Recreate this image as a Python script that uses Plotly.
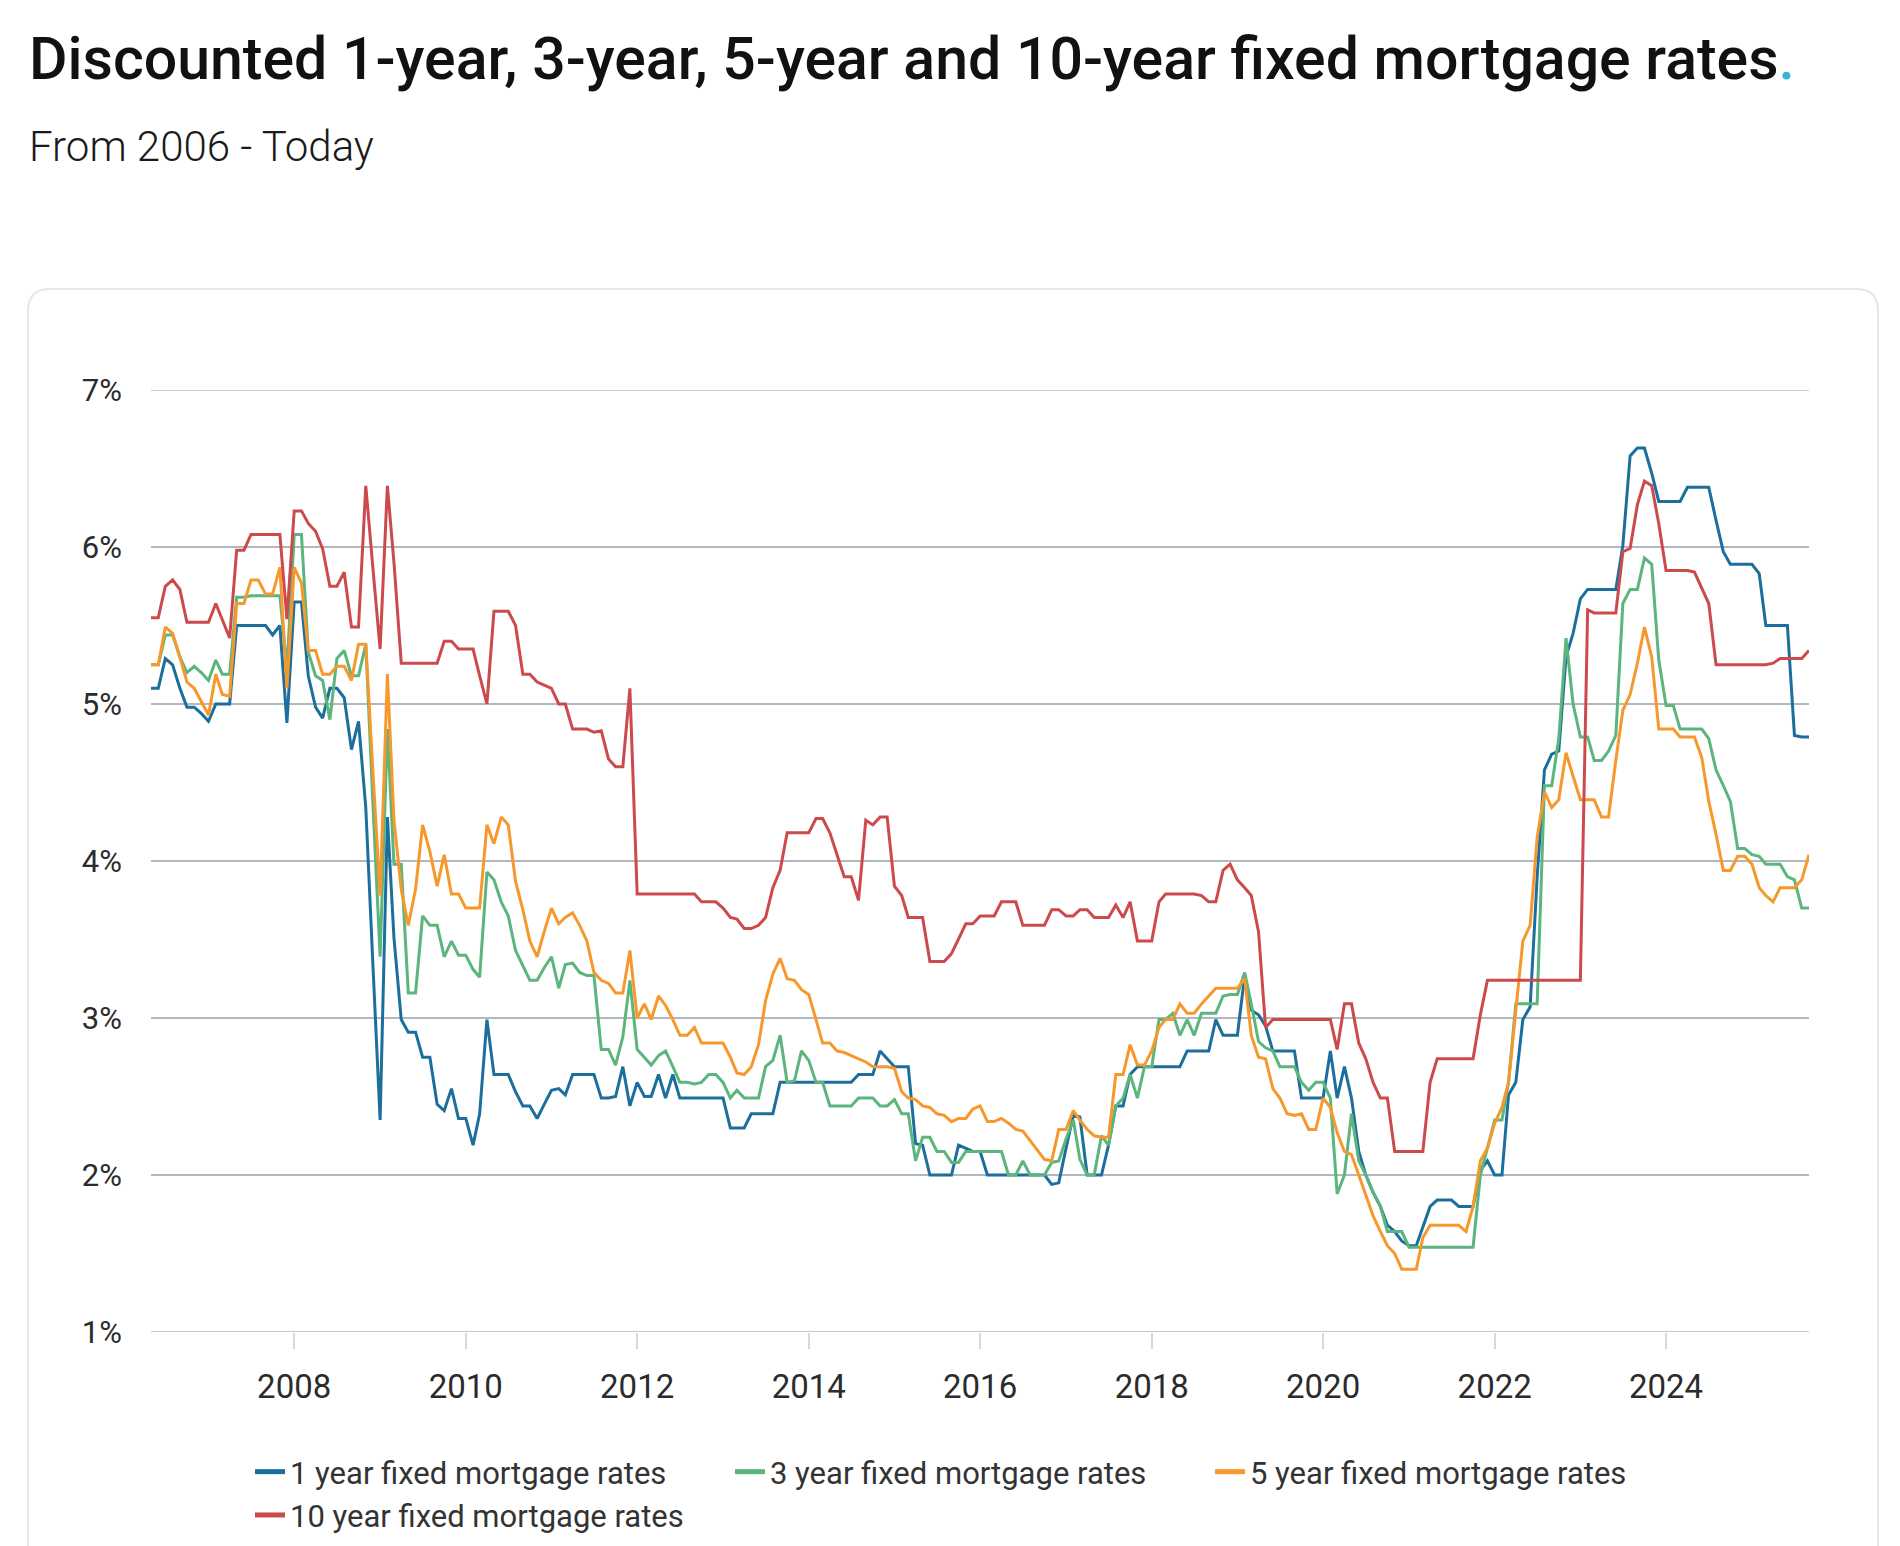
import pandas as pd
import plotly.graph_objects as go

# Monthly observations, May 2006 - Sep 2025
start_month = "2006-05-01"

one_year = [
    5.10, 5.10, 5.29, 5.25, 5.10, 4.98, 4.98, 4.94, 4.89, 5.00, 5.00, 5.00,
    5.50, 5.50, 5.50, 5.50, 5.50, 5.44, 5.50, 4.88, 5.65, 5.65, 5.18, 4.98,
    4.91, 5.10, 5.10, 5.04, 4.71, 4.89, 4.34, 3.35, 2.35, 4.28, 3.51, 2.99,
    2.91, 2.91, 2.75, 2.75, 2.45, 2.41, 2.55, 2.36, 2.36, 2.19, 2.39, 2.99,
    2.64, 2.64, 2.64, 2.53, 2.44, 2.44, 2.36, 2.45, 2.54, 2.55, 2.51, 2.64,
    2.64, 2.64, 2.64, 2.49, 2.49, 2.50, 2.69, 2.44, 2.59, 2.50, 2.50, 2.64,
    2.49, 2.64, 2.49, 2.49, 2.49, 2.49, 2.49, 2.49, 2.49, 2.30, 2.30, 2.30,
    2.39, 2.39, 2.39, 2.39, 2.59, 2.59, 2.59, 2.59, 2.59, 2.59, 2.59, 2.59,
    2.59, 2.59, 2.59, 2.64, 2.64, 2.64, 2.79, 2.74, 2.69, 2.69, 2.69, 2.20,
    2.19, 2.00, 2.00, 2.00, 2.00, 2.19, 2.17, 2.15, 2.15, 2.00, 2.00, 2.00,
    2.00, 2.00, 2.00, 2.00, 2.00, 2.00, 1.94, 1.95, 2.17, 2.38, 2.37, 2.00,
    2.00, 2.00, 2.19, 2.44, 2.44, 2.64, 2.69, 2.69, 2.69, 2.69, 2.69, 2.69,
    2.69, 2.79, 2.79, 2.79, 2.79, 2.99, 2.89, 2.89, 2.89, 3.27, 3.05, 3.02,
    2.95, 2.79, 2.79, 2.79, 2.79, 2.49, 2.49, 2.49, 2.49, 2.79, 2.49, 2.69,
    2.49, 2.15, 2.00, 1.89, 1.80, 1.68, 1.64, 1.58, 1.55, 1.55, 1.67, 1.80,
    1.84, 1.84, 1.84, 1.80, 1.80, 1.80, 2.03, 2.09, 2.00, 2.00, 2.51, 2.59,
    2.99, 3.07, 3.90, 4.58, 4.68, 4.70, 5.30, 5.45, 5.67, 5.73, 5.73, 5.73,
    5.73, 5.73, 6.01, 6.58, 6.63, 6.63, 6.47, 6.29, 6.29, 6.29, 6.29, 6.38,
    6.38, 6.38, 6.38, 6.17, 5.97, 5.89, 5.89, 5.89, 5.89, 5.83, 5.50, 5.50,
    5.50, 5.50, 4.80, 4.79, 4.79,
]

three_year = [
    5.25, 5.25, 5.44, 5.44, 5.30, 5.20, 5.24, 5.20, 5.15, 5.28, 5.19, 5.19,
    5.68, 5.68, 5.69, 5.69, 5.69, 5.69, 5.69, 5.22, 6.08, 6.08, 5.33, 5.18,
    5.15, 4.90, 5.29, 5.34, 5.18, 5.18, 5.38, 4.38, 3.39, 4.84, 3.98, 3.98,
    3.16, 3.16, 3.65, 3.59, 3.59, 3.39, 3.49, 3.40, 3.40, 3.31, 3.26, 3.93,
    3.88, 3.74, 3.65, 3.43, 3.33, 3.24, 3.24, 3.32, 3.39, 3.19, 3.34, 3.35,
    3.29, 3.27, 3.27, 2.80, 2.80, 2.70, 2.88, 3.24, 2.80, 2.75, 2.70, 2.76,
    2.79, 2.69, 2.59, 2.59, 2.58, 2.59, 2.64, 2.64, 2.59, 2.49, 2.54, 2.49,
    2.49, 2.49, 2.69, 2.73, 2.89, 2.59, 2.60, 2.79, 2.73, 2.59, 2.59, 2.44,
    2.44, 2.44, 2.44, 2.49, 2.49, 2.49, 2.44, 2.44, 2.48, 2.39, 2.39, 2.09,
    2.24, 2.24, 2.15, 2.15, 2.08, 2.08, 2.15, 2.15, 2.15, 2.15, 2.15, 2.15,
    2.00, 2.00, 2.09, 2.00, 2.00, 2.00, 2.08, 2.09, 2.23, 2.35, 2.10, 2.00,
    2.00, 2.25, 2.19, 2.44, 2.49, 2.64, 2.49, 2.69, 2.69, 2.99, 2.99, 3.03,
    2.89, 2.99, 2.89, 3.03, 3.03, 3.03, 3.14, 3.15, 3.15, 3.29, 3.09, 2.85,
    2.81, 2.79, 2.69, 2.69, 2.69, 2.59, 2.54, 2.59, 2.59, 2.49, 1.88, 2.00,
    2.39, 2.09, 2.00, 1.89, 1.80, 1.64, 1.64, 1.64, 1.54, 1.54, 1.54, 1.54,
    1.54, 1.54, 1.54, 1.54, 1.54, 1.54, 2.00, 2.17, 2.35, 2.35, 2.59, 3.09,
    3.09, 3.09, 3.09, 4.48, 4.48, 4.78, 5.42, 5.00, 4.79, 4.79, 4.64, 4.64,
    4.70, 4.80, 5.64, 5.73, 5.73, 5.93, 5.89, 5.28, 4.99, 4.99, 4.84, 4.84,
    4.84, 4.84, 4.78, 4.58, 4.48, 4.38, 4.08, 4.08, 4.04, 4.03, 3.98, 3.98,
    3.98, 3.90, 3.88, 3.70, 3.70,
]

five_year = [
    5.25, 5.25, 5.49, 5.45, 5.30, 5.14, 5.10, 5.02, 4.93, 5.19, 5.06, 5.05,
    5.64, 5.64, 5.79, 5.79, 5.70, 5.70, 5.87, 5.10, 5.87, 5.77, 5.34, 5.34,
    5.19, 5.19, 5.24, 5.24, 5.15, 5.38, 5.38, 4.58, 3.78, 5.19, 4.26, 3.82,
    3.59, 3.82, 4.23, 4.06, 3.84, 4.04, 3.79, 3.79, 3.70, 3.70, 3.70, 4.23,
    4.11, 4.28, 4.23, 3.87, 3.69, 3.49, 3.39, 3.55, 3.70, 3.60, 3.64, 3.67,
    3.59, 3.49, 3.29, 3.24, 3.22, 3.16, 3.16, 3.43, 3.00, 3.09, 2.99, 3.14,
    3.08, 2.99, 2.89, 2.89, 2.94, 2.84, 2.84, 2.84, 2.84, 2.75, 2.65, 2.64,
    2.69, 2.83, 3.11, 3.28, 3.38, 3.25, 3.24, 3.18, 3.15, 2.99, 2.84, 2.84,
    2.79, 2.78, 2.76, 2.74, 2.72, 2.69, 2.69, 2.69, 2.68, 2.53, 2.49, 2.48,
    2.44, 2.43, 2.39, 2.38, 2.34, 2.36, 2.36, 2.42, 2.44, 2.34, 2.34, 2.36,
    2.33, 2.29, 2.28, 2.22, 2.16, 2.10, 2.09, 2.29, 2.29, 2.41, 2.35, 2.29,
    2.25, 2.24, 2.24, 2.64, 2.64, 2.83, 2.70, 2.70, 2.79, 2.94, 2.99, 2.99,
    3.09, 3.03, 3.03, 3.09, 3.14, 3.19, 3.19, 3.19, 3.19, 3.25, 2.89, 2.75,
    2.74, 2.55, 2.49, 2.39, 2.38, 2.39, 2.29, 2.29, 2.49, 2.43, 2.27, 2.15,
    2.13, 2.00, 1.87, 1.74, 1.64, 1.55, 1.50, 1.40, 1.40, 1.40, 1.60, 1.68,
    1.68, 1.68, 1.68, 1.68, 1.64, 1.80, 2.09, 2.17, 2.33, 2.43, 2.59, 3.07,
    3.49, 3.59, 4.15, 4.44, 4.34, 4.39, 4.69, 4.54, 4.39, 4.39, 4.39, 4.28,
    4.28, 4.64, 4.96, 5.06, 5.26, 5.49, 5.30, 4.84, 4.84, 4.84, 4.79, 4.79,
    4.79, 4.66, 4.38, 4.17, 3.94, 3.94, 4.03, 4.03, 3.98, 3.83, 3.78, 3.74,
    3.83, 3.83, 3.83, 3.88, 4.04,
]

ten_year = [
    5.55, 5.55, 5.75, 5.79, 5.73, 5.52, 5.52, 5.52, 5.52, 5.64, 5.53, 5.42,
    5.98, 5.98, 6.08, 6.08, 6.08, 6.08, 6.08, 5.54, 6.23, 6.23, 6.15, 6.10,
    5.99, 5.75, 5.75, 5.84, 5.49, 5.49, 6.39, 5.87, 5.35, 6.39, 5.90, 5.26,
    5.26, 5.26, 5.26, 5.26, 5.26, 5.40, 5.40, 5.35, 5.35, 5.35, 5.18, 5.00,
    5.59, 5.59, 5.59, 5.50, 5.19, 5.19, 5.14, 5.12, 5.10, 5.00, 5.00, 4.84,
    4.84, 4.84, 4.82, 4.83, 4.65, 4.60, 4.60, 5.10, 3.79, 3.79, 3.79, 3.79,
    3.79, 3.79, 3.79, 3.79, 3.79, 3.74, 3.74, 3.74, 3.70, 3.64, 3.63, 3.57,
    3.57, 3.59, 3.64, 3.83, 3.94, 4.18, 4.18, 4.18, 4.18, 4.27, 4.27, 4.18,
    4.04, 3.90, 3.90, 3.75, 4.26, 4.23, 4.28, 4.28, 3.84, 3.78, 3.64, 3.64,
    3.64, 3.36, 3.36, 3.36, 3.41, 3.50, 3.60, 3.60, 3.65, 3.65, 3.65, 3.74,
    3.74, 3.74, 3.59, 3.59, 3.59, 3.59, 3.69, 3.69, 3.65, 3.65, 3.69, 3.69,
    3.64, 3.64, 3.64, 3.72, 3.64, 3.74, 3.49, 3.49, 3.49, 3.74, 3.79, 3.79,
    3.79, 3.79, 3.79, 3.78, 3.74, 3.74, 3.94, 3.98, 3.88, 3.83, 3.78, 3.55,
    2.94, 2.99, 2.99, 2.99, 2.99, 2.99, 2.99, 2.99, 2.99, 2.99, 2.80, 3.09,
    3.09, 2.84, 2.74, 2.59, 2.49, 2.49, 2.15, 2.15, 2.15, 2.15, 2.15, 2.59,
    2.74, 2.74, 2.74, 2.74, 2.74, 2.74, 3.02, 3.24, 3.24, 3.24, 3.24, 3.24,
    3.24, 3.24, 3.24, 3.24, 3.24, 3.24, 3.24, 3.24, 3.24, 5.60, 5.58, 5.58,
    5.58, 5.58, 5.97, 5.99, 6.27, 6.42, 6.39, 6.15, 5.85, 5.85, 5.85, 5.85,
    5.84, 5.74, 5.64, 5.25, 5.25, 5.25, 5.25, 5.25, 5.25, 5.25, 5.25, 5.26,
    5.29, 5.29, 5.29, 5.29, 5.34,
]

series_names = [
    "1 year fixed mortgage rates",
    "3 year fixed mortgage rates",
    "5 year fixed mortgage rates",
    "10 year fixed mortgage rates",
]
series_values = [one_year, three_year, five_year, ten_year]
series_colors = ["#1c6f9c", "#5bb57c", "#f7982c", "#cc4a4b"]

y_tick_values = [1, 2, 3, 4, 5, 6, 7]
y_tick_labels = ["1%", "2%", "3%", "4%", "5%", "6%", "7%"]
y_min, y_max = 1, 7

n = len(one_year)
dates = pd.date_range(start_month, periods=n, freq="MS")

fig = go.Figure()
for name, vals, col in zip(series_names, series_values, series_colors):
    fig.add_trace(go.Scatter(
        x=dates[:len(vals)], y=vals, name=name, mode="lines",
        line=dict(color=col, width=3), showlegend=False,
    ))
# legend entries (thicker swatches, no data of their own)
for name, col in zip(series_names, series_colors):
    fig.add_trace(go.Scatter(
        x=[None], y=[None], name=name, mode="lines",
        line=dict(color=col, width=5), showlegend=True, hoverinfo="skip",
    ))

W, H = 1900, 1546
L, R, T, B = 143, 99, 382, 222
PW, PH = W - L - R, H - T - B


def px(x):
    return (x - L) / PW


def py(y):
    return (H - B - y) / PH


font_main = "Roboto, 'Open Sans', sans-serif"
grid_col = "#b2b8bf"

# card outline
x0, x1 = px(20), px(1870)
yt, yb = py(281), py(1600)
rx, ry = 22 / PW, 22 / PH
card_path = (f"M{x0},{yb} L{x0},{yt - ry} Q{x0},{yt} {x0 + rx},{yt} "
             f"L{x1 - rx},{yt} Q{x1},{yt} {x1},{yt - ry} L{x1},{yb}")

shapes = [dict(type="path", path=card_path, xref="paper", yref="paper",
               line=dict(color="#e3e8eb", width=2), layer="below")]
# gridlines at the range edges (plotly drops them)
for yv in (y_min, y_max):
    shapes.append(dict(type="line", xref="paper", yref="y", x0=0, x1=1,
                       y0=yv, y1=yv, line=dict(color=grid_col, width=1.5),
                       layer="below"))

fig.update_layout(
    width=W, height=H,
    margin=dict(l=L, r=R, t=T, b=B, autoexpand=False),
    paper_bgcolor="white", plot_bgcolor="white",
    font=dict(family=font_main, color="#2b2b2b"),
    showlegend=True,
    legend=dict(
        orientation="h", x=px(242), y=py(1437), xanchor="left", yanchor="top",
        font=dict(size=31, color="#333333", family=font_main),
        entrywidth=435, entrywidthmode="pixels",
        traceorder="normal", itemwidth=30, bgcolor="rgba(0,0,0,0)",
    ),
    shapes=shapes,
    annotations=[
        dict(text='Discounted 1-year, 3-year, 5-year and 10-year fixed mortgage rates<span style="color:#35b4d8">.</span>',
             x=px(19), y=py(50), xref="paper", yref="paper",
             xanchor="left", yanchor="middle", showarrow=False,
             font=dict(size=59, color="#111111", family=font_main, weight=500)),
        dict(text="From 2006 - Today",
             x=px(19), y=py(139), xref="paper", yref="paper",
             xanchor="left", yanchor="middle", showarrow=False,
             font=dict(size=42, color="#1a1a1a", family=font_main, weight=300)),
    ],
)

fig.update_xaxes(
    type="date",
    range=[dates[0], dates[-1]],
    showgrid=False, zeroline=False, showline=False,
    tick0="2008-01-01", dtick="M24", tickformat="%Y",
    ticks="outside", ticklen=16, tickwidth=2, tickcolor="#d4d7e5",
    ticklabelstandoff=9,
    tickfont=dict(size=33, color="#2b2b2b", family=font_main),
)
fig.update_yaxes(
    range=[y_min, y_max],
    tickvals=y_tick_values, ticktext=y_tick_labels,
    showgrid=True, gridcolor=grid_col, gridwidth=1.5,
    zeroline=False, showline=False, ticks="",
    ticklabelstandoff=28,
    tickfont=dict(size=31, color="#2b2b2b", family=font_main),
)

fig.write_html("out.html")
